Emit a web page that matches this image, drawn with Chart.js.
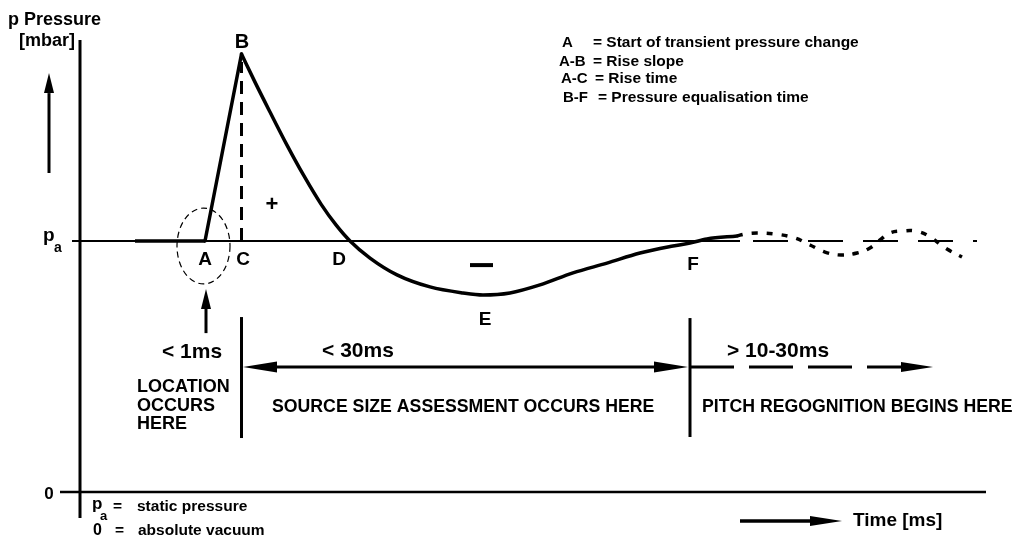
<!DOCTYPE html>
<html>
<head>
<meta charset="utf-8">
<script src="https://cdn.jsdelivr.net/npm/chart.js@4"></script>
<style>
  html, body { margin: 0; padding: 0; background: #fff; }
  #wrap { width: 1024px; height: 550px; }
</style>
</head>
<body>
<div id="wrap"><canvas id="pressureChart"></canvas></div>
<script>
// time in schematic units from the axis origin, pressure relative to static pressure (pa = 1, 0 = vacuum)
const paLevel = 1.0;

const leadTime = [5.5, 12.5];
const leadPressure = [1.0, 1.0];

// A -> B
const riseTime = [12.5, 16.15];
const risePressure = [1.0, 1.745];

// B -> D -> E -> F
const decayTime = [16.15, 17.5, 19.0, 20.7, 22.4, 24.1, 25.6, 27.0, 29.0, 31.7, 35.0, 38.3, 40.3, 43.0, 46.0, 49.3, 52.7, 56.0, 59.3, 61.0, 62.7, 65.7];
const decayPressure = [1.745, 1.633, 1.514, 1.382, 1.259, 1.147, 1.064, 1.0, 0.932, 0.865, 0.817, 0.793, 0.785, 0.793, 0.825, 0.873, 0.912, 0.952, 0.980, 0.992, 1.008, 1.020];

// dotted oscillation after F
const tailTime = [65.7, 66.5, 67.7, 69.5, 71.5, 73.0, 74.5, 76.1, 77.7, 79.0, 80.0, 81.0, 82.3, 83.5, 84.7, 86.7, 88.2];
const tailPressure = [1.020, 1.028, 1.032, 1.028, 1.012, 0.984, 0.956, 0.944, 0.952, 0.972, 1.004, 1.032, 1.040, 1.040, 1.024, 0.968, 0.936];

const pointLabels = ['A', 'B', 'C', 'D', 'E', 'F'];
const legendKeys = ['A', 'A-B', 'A-C', 'B-F'];
const legendTexts = ['= Start of transient pressure change', '= Rise slope', '= Rise time', '= Pressure equalisation time'];
const phaseTimes = ['< 1ms', '< 30ms', '> 10-30ms'];
const phaseTexts = ['SOURCE SIZE ASSESSMENT OCCURS HERE', 'PITCH REGOGNITION BEGINS HERE'];

const FONT = '"Liberation Sans", Arial, sans-serif';
const pts = (xs, ys) => xs.map((x, i) => ({ x: x, y: ys[i] }));

function line(color, width, extra) {
  return Object.assign({ borderColor: color, borderWidth: width, pointRadius: 0, showLine: true, fill: false, tension: 0 }, extra || {});
}

const notes = {
  id: 'notes',
  afterDatasetsDraw(chart) {
    const ctx = chart.ctx;
    const X = v => chart.scales.x.getPixelForValue(v);
    const Y = v => chart.scales.y.getPixelForValue(v);

    function arrow(x1, y1, x2, y2, len, half, width, dash) {
      const a = Math.atan2(y2 - y1, x2 - x1);
      const bx = x2 - len * Math.cos(a), by = y2 - len * Math.sin(a);
      ctx.save();
      ctx.strokeStyle = '#000';
      ctx.lineWidth = width;
      ctx.setLineDash(dash || []);
      ctx.beginPath();
      ctx.moveTo(x1, y1);
      ctx.lineTo(bx, by);
      ctx.stroke();
      ctx.setLineDash([]);
      head(x2, y2, a, len, half);
      ctx.restore();
    }
    function head(x, y, a, len, half) {
      const bx = x - len * Math.cos(a), by = y - len * Math.sin(a);
      ctx.fillStyle = '#000';
      ctx.beginPath();
      ctx.moveTo(x, y);
      ctx.lineTo(bx + half * Math.sin(a), by - half * Math.cos(a));
      ctx.lineTo(bx - half * Math.sin(a), by + half * Math.cos(a));
      ctx.closePath();
      ctx.fill();
    }
    function seg(x1, y1, x2, y2, width) {
      ctx.save();
      ctx.strokeStyle = '#000';
      ctx.lineWidth = width;
      ctx.beginPath();
      ctx.moveTo(x1, y1);
      ctx.lineTo(x2, y2);
      ctx.stroke();
      ctx.restore();
    }
    function text(s, t, p, size, align, base) {
      ctx.save();
      ctx.fillStyle = '#000';
      ctx.font = 'bold ' + size + 'px ' + FONT;
      ctx.textAlign = align || 'center';
      ctx.textBaseline = base || 'middle';
      ctx.fillText(s, X(t), Y(p));
      ctx.restore();
    }

    // dashed ellipse round A
    ctx.save();
    ctx.strokeStyle = '#000';
    ctx.lineWidth = 1.2;
    ctx.setLineDash([6, 4]);
    ctx.beginPath();
    ctx.ellipse(X(12.35), Y(0.98), X(15.0) - X(12.35), Y(0.98) - Y(1.131), 0, 0, Math.PI * 2);
    ctx.stroke();
    ctx.restore();

    // arrows
    arrow(X(-3.1), Y(1.271), X(-3.1), Y(1.669), 20, 5, 3);
    arrow(X(12.6), Y(0.633), X(12.6), Y(0.809), 20, 5, 3);
    seg(X(16.15), Y(0.697), X(16.15), Y(0.215), 3);
    seg(X(61.0), Y(0.693), X(61.0), Y(0.219), 3);
    arrow(X(38.5), Y(0.498), X(16.3), Y(0.498), 34, 5.5, 3);
    arrow(X(38.5), Y(0.498), X(60.8), Y(0.498), 34, 5.5, 3);
    arrow(X(61.0), Y(0.498), X(85.3), Y(0.498), 32, 5, 3, [44, 15]);
    arrow(X(66.0), Y(-0.1155), X(76.2), Y(-0.1155), 32, 5, 3.5);

    // minus sign in the negative phase
    seg(X(39.0), Y(0.904), X(41.3), Y(0.904), 4);

    // axis titles
    text('p Pressure', -7.2, 1.880, 18, 'left');
    text('[mbar]', -6.1, 1.797, 18, 'left');
    text('p', -3.7, paLevel, 19, 'left', 'alphabetic');
    text('a', -2.6, 0.956, 14, 'left', 'alphabetic');
    text('0', -3.1, -0.008, 17);
    text('Time [ms]', 77.3, -0.1155, 19, 'left');

    // point letters A..F and the +
    const lt = [12.5, 16.2, 16.3, 25.9, 40.5, 61.3];
    const lp = [0.924, 1.789, 0.924, 0.924, 0.685, 0.904];
    pointLabels.forEach((s, i) => text(s, lt[i], lp[i], s === 'B' ? 20 : 19));
    text('+', 19.2, 1.143, 22);

    // key, top right
    const kt = [48.2, 47.9, 48.1, 48.3];
    const et = [51.3, 51.3, 51.5, 51.8];
    const kp = [1.790, 1.714, 1.645, 1.572];
    legendKeys.forEach((s, i) => {
      text(s, kt[i], kp[i], 15, 'left');
      text(legendTexts[i], et[i], kp[i], 15.5, 'left');
    });

    // phases
    text(phaseTimes[0], 11.2, 0.556, 21);
    text(phaseTimes[1], 27.8, 0.562, 21);
    text(phaseTimes[2], 69.8, 0.562, 21);
    text('LOCATION', 5.7, 0.418, 18, 'left');
    text('OCCURS', 5.7, 0.343, 18, 'left');
    text('HERE', 5.7, 0.271, 18, 'left');
    text(phaseTexts[0], 19.2, 0.339, 17.7, 'left');
    text(phaseTexts[1], 62.2, 0.339, 17.7, 'left');

    // footnote
    text('p', 1.2, -0.068, 17, 'left', 'alphabetic');
    text('a', 2.0, -0.112, 13, 'left', 'alphabetic');
    text('=', 3.3, -0.060, 15.5, 'left');
    text('static pressure', 5.7, -0.060, 15.5, 'left');
    text('0', 1.3, -0.155, 16, 'left');
    text('=', 3.5, -0.155, 15.5, 'left');
    text('absolute vacuum', 5.8, -0.155, 15.5, 'left');
  }
};

new Chart(document.getElementById('pressureChart'), {
  type: 'scatter',
  data: {
    datasets: [
      // axes
      line('#000', 3, { data: [{ x: 0, y: -0.104 }, { x: 0, y: 1.801 }] }),
      line('#000', 2.5, { data: [{ x: -2, y: 0 }, { x: 90.6, y: 0 }] }),
      // static pressure level
      line('#000', 2, { data: [{ x: -0.8, y: paLevel }, { x: 66, y: paLevel }] }),
      line('#000', 2, { data: [{ x: 67.3, y: paLevel }, { x: 89.7, y: paLevel }], borderDash: [35, 20] }),
      // rise time marker B-C
      line('#000', 3, { data: [{ x: 16.15, y: paLevel }, { x: 16.15, y: 1.713 }], borderDash: [13, 8] }),
      // pressure curve
      line('#000', 3.5, { data: pts(leadTime, leadPressure) }),
      line('#000', 3.5, { data: pts(riseTime, risePressure), borderCapStyle: 'round', borderJoinStyle: 'miter' }),
      line('#000', 3.5, { data: pts(decayTime, decayPressure), cubicInterpolationMode: 'monotone', borderCapStyle: 'round' }),
      line('#000', 3.5, { data: pts(tailTime, tailPressure), tension: 0.4, borderDash: [6, 9] })
    ]
  },
  options: {
    responsive: true,
    maintainAspectRatio: false,
    animation: false,
    layout: { padding: 0 },
    plugins: {
      legend: { display: false },
      tooltip: { enabled: false }
    },
    scales: {
      x: { type: 'linear', min: -8, max: 94.4, display: false },
      y: { type: 'linear', min: -0.2311, max: 1.9602, display: false }
    }
  },
  plugins: [notes]
});
</script>
</body>
</html>
